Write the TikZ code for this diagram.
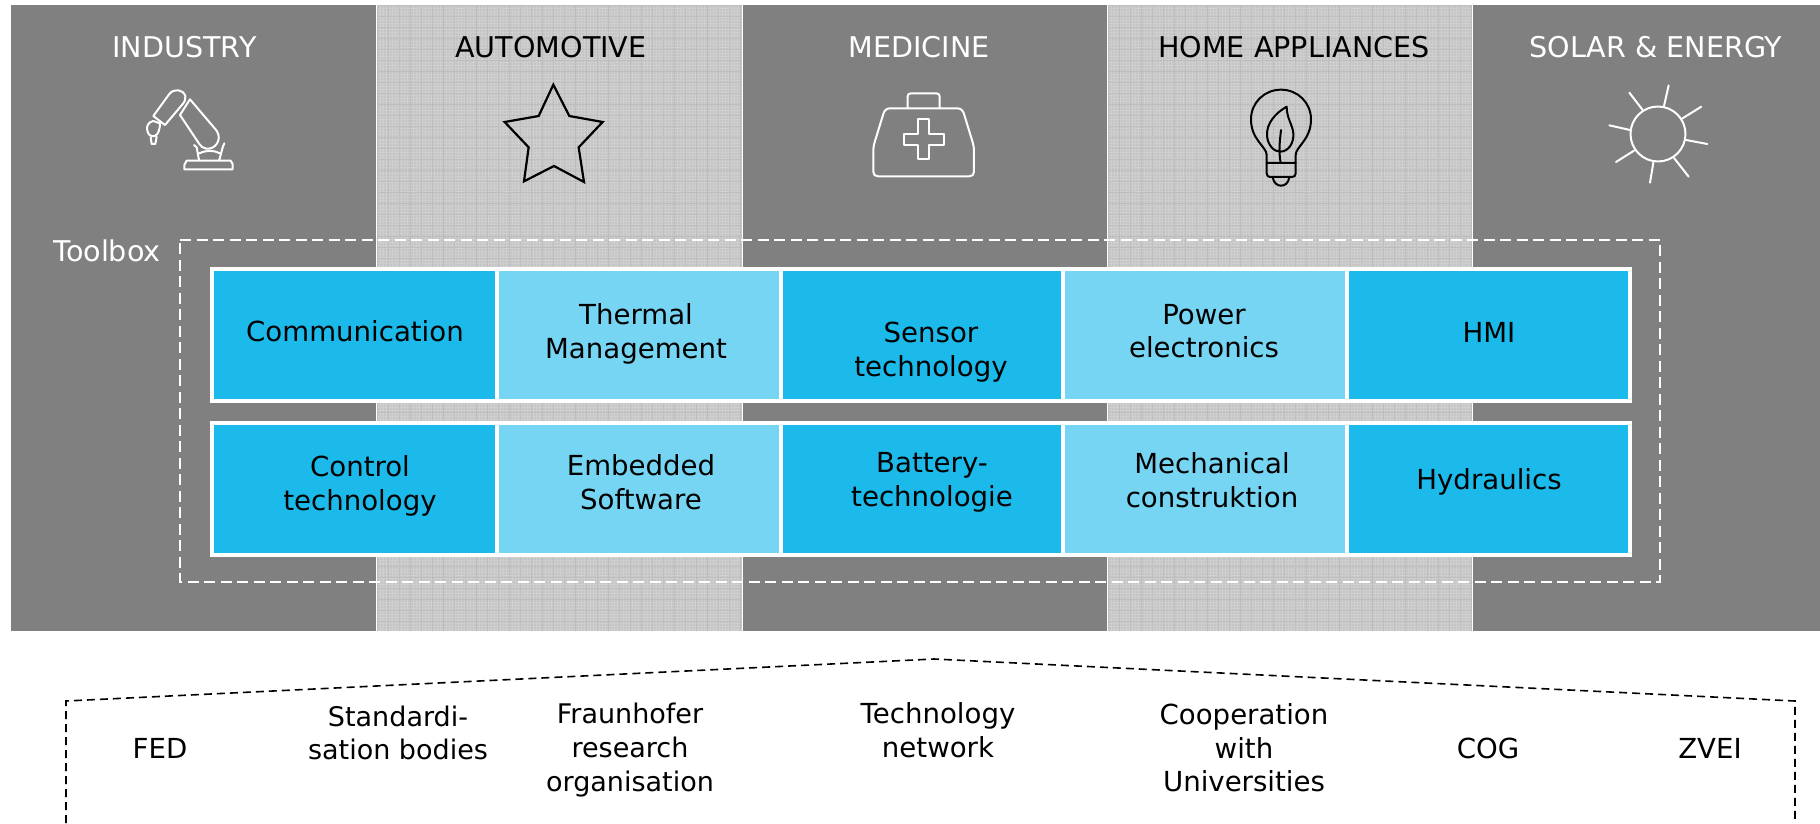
\documentclass[tikz,border=0pt]{standalone}
\usepackage{fontspec}
\setmainfont{DejaVu Sans}
\definecolor{band}{HTML}{808080}
\definecolor{hatch}{HTML}{C5C5C5}
\definecolor{hatchlight}{HTML}{CFCFCF}
\definecolor{hatchdark}{HTML}{BEBEBE}
\definecolor{cellblue}{HTML}{1BBAEA}
\definecolor{celllight}{HTML}{76D5F3}
\tikzset{
  lbl/.style={inner sep=0pt,align=center,font=\fontsize{27.6}{33.6}\selectfont,text=black},
  lblsm/.style={lbl,font=\fontsize{27}{33.6}\selectfont},
  hdrk/.style={lbl,font=\fontsize{28.6}{33.6}\selectfont},
  hdr/.style={hdrk,text=white},
  darkcell/.style={draw=white,line width=4pt,fill=cellblue,inner sep=0pt,outer sep=0pt},
  lightcell/.style={draw=white,line width=4pt,fill=celllight,inner sep=0pt,outer sep=0pt},
  iconw/.style={draw=white,line width=2pt,line join=round,line cap=round},
  iconk/.style={draw=black,line width=2pt,line join=round,line cap=round},
}
\newcommand{\hatchband}[2]{%
  \begin{scope}
    \clip (#1,5) rectangle (#2,631);
    \fill[hatch] (#1,5) rectangle (#2,631);
    \foreach \q in {0,3,...,366}{\draw[hatchlight,line width=.8pt] (#1+\q,5) -- (#1+\q,631);}
    \foreach \q in {5,8,...,631}{\draw[hatchlight,line width=.8pt] (#1,\q) -- (#2,\q);}
    \foreach \q in {0,11,...,366}{\draw[hatchdark,line width=.7pt] (#1+\q,5) -- (#1+\q,631);}
    \foreach \q in {5,16,...,631}{\draw[hatchdark,line width=.7pt] (#1,\q) -- (#2,\q);}
  \end{scope}}
\begin{document}
\begin{tikzpicture}[x=1pt,y=-1pt]
\useasboundingbox (0,0) rectangle (1820,823);
\fill[white] (0,0) rectangle (1820,823);
% bands
\fill[band] (11,5) rectangle (1820,631);
\hatchband{377}{742}
\hatchband{1108}{1472}
\draw[white,line width=.8pt] (376.5,5) -- (376.5,631) (742.5,5) -- (742.5,631) (1107.5,5) -- (1107.5,631) (1472,5) -- (1472,631);
% headers
\node[hdr] (h1) at (184.5,47) {INDUSTRY};
\node[hdrk] (h2) at (551,47) {AUTOMOTIVE};
\node[hdr] (h3) at (919,47) {MEDICINE};
\node[hdrk] (h4) at (1294,47) {HOME APPLIANCES};
\node[hdr] (h5) at (1656,47) {SOLAR \& ENERGY};
% robot
\begin{scope}[shift={(100,60)},x=.3333pt,y=-.3333pt]
  \draw[iconw] (160,168) -- (208,102) .. controls (222,84) and (250,88) .. (256,108) .. controls (258,118) and (254,124) .. (250,130) -- (195,195) -- cycle;
  \draw[iconw] (270,118) -- (350,212) .. controls (368,240) and (345,270) .. (318,266) .. controls (308,264) and (302,258) .. (298,252) -- (240,165) -- cycle;
  \draw[iconw] (253,328) -- (398,328) -- (398,312) -- (392,302) -- (260,302) -- (253,315) -- cycle;
  \draw[iconw] (282,255) -- (290,262) -- (297,300) (373,250) -- (368,262) -- (358,300) (298,280) .. controls (320,270) and (340,270) .. (360,280);
  \draw[iconw] (160,183) .. controls (145,185) and (138,200) .. (142,212) .. controls (145,224) and (150,230) .. (165,228) .. controls (176,222) and (180,205) .. (180,190) -- cycle;
  \draw[iconw] (152,232) -- (155,252) -- (166,252) -- (170,230);
\end{scope}
% star
\begin{scope}[shift={(490,70)},x=.3333pt,y=-.3333pt]
  \draw[iconk,line width=2.2pt,line join=miter] (190,44) -- (238,138) -- (338,156) -- (266,232) -- (282,336) -- (192,288) -- (102,334) -- (116,232) -- (44,156) -- (146,138) -- cycle;
\end{scope}
% medical bag
\begin{scope}[shift={(720,60)},x=.3333pt,y=-.3333pt]
  \draw[iconw] (563,145) -- (563,110) .. controls (563,103) and (566,100) .. (573,100) -- (649,100) .. controls (656,100) and (659,103) .. (659,110) -- (659,145);
  \draw[iconw] (510,145) -- (712,145) .. controls (724,145) and (730,153) .. (733,165) -- (756,240) .. controls (760,252) and (762,262) .. (762,275) -- (762,335) .. controls (762,344) and (757,349) .. (748,349) -- (474,349) .. controls (465,349) and (460,344) .. (460,335) -- (460,275) .. controls (460,262) and (462,252) .. (466,240) -- (489,165) .. controls (492,153) and (498,145) .. (510,145) -- cycle;
  \draw[iconw] (595,178) -- (627,178) -- (627,222) -- (671,222) -- (671,254) -- (627,254) -- (627,298) -- (595,298) -- (595,254) -- (551,254) -- (551,222) -- (595,222) -- cycle;
\end{scope}
% bulb
\begin{scope}[shift={(1230,75)},x=.3333pt,y=-.3333pt]
  \draw[iconk] (110,264) -- (110,240) .. controls (110,215) and (63,195) .. (63,133) .. controls (63,83) and (103,44) .. (153,44) .. controls (203,44) and (243,83) .. (243,133) .. controls (243,195) and (197,215) .. (197,240) -- (197,264) -- cycle;
  \draw[iconk] (110,264) -- (110,295) .. controls (110,302) and (114,306) .. (120,306) -- (186,306) .. controls (193,306) and (197,302) .. (197,295) -- (197,264);
  \draw[iconk] (128,308) .. controls (132,325) and (142,332) .. (153,332) .. controls (165,332) and (174,325) .. (178,308);
  \draw[iconk] (170,95) .. controls (135,115) and (110,145) .. (111,180) .. controls (112,210) and (132,230) .. (150,230) .. controls (175,230) and (192,205) .. (190,175) .. controls (188,150) and (170,130) .. (170,95) -- cycle;
  \draw[iconk] (153,165) .. controls (150,195) and (145,225) .. (152,264);
\end{scope}
% sun
\begin{scope}[shift={(1590,70)},x=.3333pt,y=-.3333pt]
  \draw[iconw] (204,192) circle [radius=27.5pt];
  \draw[iconw] (222,108) -- (236,46) (276,146) -- (334,110) (288,210) -- (352,222) (252,264) -- (296,320) (190,278) -- (180,338) (132,242) -- (78,276) (120,180) -- (58,166) (158,120) -- (118,68);
\end{scope}
% toolbox
\node[hdr,anchor=center] (tb) at (107,251) {Toolbox};
\coordinate (tl) at (180,240);
\coordinate (tr) at (1660,240);
\coordinate (br) at (1660,582);
\coordinate (bl) at (180,582);
\draw[white,line width=2.6pt,dash pattern=on 11pt off 5.5pt] (tl) -- (tr) -- (br) -- (bl) -- cycle;
% cells
\foreach \nm/\xa/\xb/\st in {a/212/497/darkcell,b/497/780.5/lightcell,c/780.5/1062.5/darkcell,d/1062.5/1346.5/lightcell,e/1346.5/1630/darkcell}{
  \draw[\st] (\xa,269) rectangle (\xb,401);
  \draw[\st] (\xa,423) rectangle (\xb,555);
}
\node[lbl] (t1) at (355,331) {Communication};
\node[lbl] (t2) at (636,334) {Thermal\\Management};
\node[lbl] (t3) at (931,352) {Sensor\\technology};
\node[lbl] (t4) at (1204,331) {Power\\electronics};
\node[lbl] (t5) at (1489,332) {HMI};
\node[lbl] (t6) at (360,486) {Control\\technology};
\node[lbl] (t7) at (641,482) {Embedded\\Software};
\node[lbl] (t8) at (932,482) {Battery-\\technologie};
\node[lbl] (t9) at (1212,480) {Mechanical\\construktion};
\node[lbl] (t10) at (1489,482) {Hydraulics};
% lower bracket
\coordinate (p1) at (66,823);
\coordinate (p2) at (66,701);
\coordinate (p3) at (934,659);
\coordinate (p4) at (1795,701);
\coordinate (p5) at (1795,823);
\draw[black,line width=1.6pt,dash pattern=on 8pt off 5pt] (p1) -- (p2) -- (p3) -- (p4) -- (p5);
\node[lbl] (b1) at (160,748) {FED};
\node[lblsm] (b2) at (398,733) {Standardi-\\sation bodies};
\node[lblsm] (b3) at (630,750) {Fraunhofer\\research\\organisation};
\node[lbl] (b4) at (938,730) {Technology\\network};
\node[lbl] (b5) at (1244,748) {Cooperation\\with\\Universities};
\node[lbl] (b6) at (1488,748) {COG};
\node[lbl] (b7) at (1710,748) {ZVEI};
\end{tikzpicture}
\end{document}
